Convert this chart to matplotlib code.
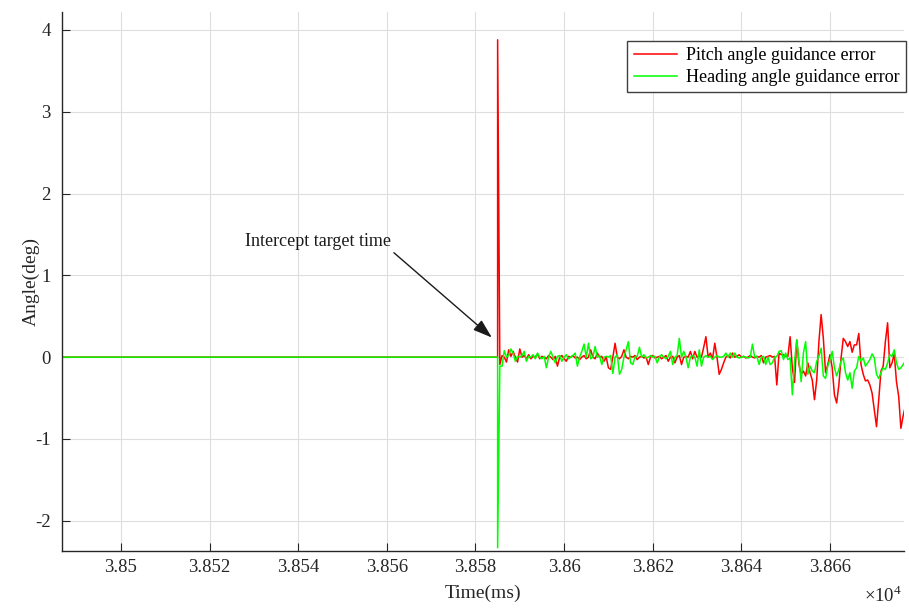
import numpy as np
import matplotlib
matplotlib.use("Agg")
import matplotlib.pyplot as plt

plt.rcParams['font.family'] = ['Liberation Serif', 'DejaVu Serif']
plt.rcParams['mathtext.fontset'] = 'custom'
plt.rcParams['mathtext.rm'] = 'Liberation Serif'
plt.rcParams['axes.unicode_minus'] = False

# ---------------- data ----------------
# quiet part before interception (both errors are zero)
t_quiet = [38487.0, 38585.0]
pitch_quiet = [0.0, 0.0]
heading_quiet = [0.0, 0.0]

# sampled part after interception: start time and sample step (ms)
t_start = 38585.0
dt = 0.5

pitch_err = [
    3.88, -0.09, 0.02, 0.0, -0.06, 0.09, 0.01, 0.07, 0.0, -0.06,
    0.10, 0.0, 0.02, -0.02, 0.03, -0.02, 0.01, 0.0, 0.04, -0.02,
    0.01, 0.0, -0.02, 0.02, 0.0, -0.03, 0.01, -0.11, 0.0, 0.02,
    -0.02, -0.05, 0.01, 0.0, 0.02, -0.01, 0.0, -0.03, 0.0, 0.02,
    -0.02, 0.0, 0.09, 0.0, -0.02, 0.05, 0.0, 0.01, -0.05, 0.0,
    -0.13, -0.15, 0.0, 0.17, 0.0, -0.02, 0.01, 0.09, 0.0, -0.02,
    0.01, 0.0, 0.02, -0.03, 0.0, 0.01, -0.01, 0.0, -0.09, 0.0,
    0.02, -0.01, 0.0, 0.01, -0.02, 0.0, 0.02, -0.05, 0.0, 0.01,
    -0.07, 0.0, 0.02, -0.09, 0.0, 0.01, 0.0, 0.07, -0.02, 0.07,
    0.0, 0.02, 0.0, 0.12, 0.25, 0.0, 0.05, -0.02, 0.17, 0.0,
    -0.21, -0.15, -0.07, 0.0, 0.02, -0.01, 0.05, 0.0, 0.01, 0.03,
    0.0, 0.01, -0.01, 0.0, 0.02, 0.0, -0.01, 0.01, 0.0, 0.02,
    -0.07, 0.0, 0.01, 0.02, 0.0, 0.01, -0.34, 0.05, 0.03, 0.03,
    0.01, 0.01, 0.25, -0.13, -0.31, 0.21, -0.09, -0.21, -0.17, -0.23,
    -0.07, -0.19, -0.28, -0.52, -0.28, 0.19, 0.52, 0.23, -0.19, -0.09,
    0.03, -0.13, -0.46, -0.56, -0.34, -0.01, 0.23, 0.19, 0.13, 0.19,
    0.06, 0.15, 0.15, 0.29, -0.09, -0.21, -0.29, -0.28, -0.34, -0.44,
    -0.64, -0.85, -0.52, -0.17, -0.11, 0.19, 0.42, -0.13, -0.07, 0.04,
    -0.30, -0.48, -0.87, -0.72, -0.60,
]

heading_err = [
    -2.33, -0.11, -0.11, 0.08, 0.0, 0.02, 0.10, 0.05, -0.05, 0.01,
    0.0, 0.02, 0.07, -0.05, 0.01, 0.0, 0.03, -0.02, 0.05, 0.0,
    -0.02, 0.01, -0.13, 0.0, 0.07, 0.0, -0.07, 0.01, 0.02, -0.05,
    0.0, 0.03, -0.02, 0.0, 0.02, 0.05, -0.11, 0.0, 0.07, 0.16,
    0.0, 0.17, -0.02, 0.0, 0.13, 0.0, 0.02, -0.09, 0.0, 0.01,
    0.0, 0.02, -0.20, 0.0, 0.03, -0.21, -0.15, 0.0, 0.09, 0.19,
    -0.07, -0.09, 0.0, 0.01, 0.12, 0.0, 0.03, -0.01, 0.0, 0.02,
    0.0, 0.01, -0.07, 0.0, 0.03, 0.0, -0.02, 0.01, 0.07, -0.09,
    0.0, 0.02, 0.23, 0.0, 0.07, 0.0, -0.13, 0.0, 0.02, 0.0,
    -0.11, 0.09, -0.11, 0.0, 0.02, 0.0, 0.01, -0.03, 0.0, 0.02,
    0.0, 0.0, 0.01, 0.05, 0.0, 0.05, 0.0, 0.05, 0.0, -0.01,
    0.0, 0.01, 0.0, -0.01, 0.0, 0.16, 0.0, 0.01, -0.09, 0.0,
    0.01, -0.09, 0.0, -0.09, -0.07, 0.0, 0.01, 0.07, 0.08, -0.03,
    0.05, -0.03, -0.01, -0.46, -0.05, 0.21, -0.05, -0.30, 0.05, 0.19,
    -0.21, -0.11, -0.17, -0.19, -0.05, 0.01, 0.11, -0.23, -0.26, -0.11,
    -0.03, 0.07, -0.13, -0.23, -0.15, -0.05, -0.01, -0.19, -0.28, -0.19,
    -0.38, -0.17, -0.13, 0.01, -0.05, -0.01, -0.11, -0.07, -0.03, 0.04,
    -0.01, -0.21, -0.26, -0.19, -0.13, -0.15, -0.07, 0.03, 0.01, 0.09,
    -0.07, -0.15, -0.13, -0.09, -0.05,
]

x_ticks = [38500, 38520, 38540, 38560, 38580, 38600, 38620, 38640, 38660]
x_tick_labels = ['3.85', '3.852', '3.854', '3.856', '3.858', '3.86', '3.862', '3.864', '3.866']
y_ticks = [-2, -1, 0, 1, 2, 3, 4]

series_names = ['Pitch angle guidance error', 'Heading angle guidance error']
intercept_time = 38584.7
annot_text = 'Intercept target time'

# ---------------- build series ----------------
n = len(pitch_err)
t_after = t_start + dt * np.arange(n)
t_all = np.concatenate([t_quiet, t_after])
pitch_all = np.concatenate([pitch_quiet, pitch_err])
heading_all = np.concatenate([heading_quiet, heading_err])

# ---------------- figure ----------------
fig = plt.figure(figsize=(9.09, 6.08), dpi=100)
ax = fig.add_axes([62/909, 57/608, (904-62)/909, (596-57)/608])

dark = '#262626'
ax.plot(t_all, pitch_all, color='#ff0000', lw=1.1, label=series_names[0])
ax.plot(t_all, heading_all, color='#00ff00', lw=1.1, label=series_names[1])

ax.set_xlim(38486.7, 38676.7)
ax.set_ylim(-2.37, 4.22)
ax.set_xticks(x_ticks)
ax.set_xticklabels(x_tick_labels)
ax.set_yticks(y_ticks)
ax.set_yticklabels([str(v) for v in y_ticks])

ax.grid(True, color='#dedede', lw=0.8)
ax.set_axisbelow(True)
for s in ['top', 'right']:
    ax.spines[s].set_visible(False)
for s in ['left', 'bottom']:
    ax.spines[s].set_color(dark)
    ax.spines[s].set_linewidth(1.0)
ax.tick_params(direction='in', length=6, width=0.8, colors=dark, labelsize=13.5)
ax.tick_params(axis='x', pad=6)
ax.tick_params(axis='y', pad=8)

ax.set_xlabel('Time(ms)', fontsize=14, color=dark, labelpad=6)
ax.set_ylabel('Angle(deg)', fontsize=14, color=dark, labelpad=-3)

fig.text(864/909, 1 - 606/608, r'$\times\mathrm{10}^{4}$', fontsize=13.5, color=dark,
         ha='left', va='bottom')

leg = ax.legend(loc='upper right', bbox_to_anchor=(906/909, 1 - 41/608),
                bbox_transform=fig.transFigure, borderaxespad=0, fancybox=False,
                edgecolor='#404040', fontsize=13, handlelength=2.4, handletextpad=0.5,
                borderpad=0.35, labelspacing=0.25, framealpha=1)
leg.get_frame().set_linewidth(1.0)

ax.annotate(annot_text, xy=(intercept_time - 1.0, 0.24), xytext=(38544.5, 1.41),
            fontsize=13, color='#1a1a1a', ha='center', va='center',
            arrowprops=dict(arrowstyle='-|>,head_length=0.9,head_width=0.3',
                            color='#1a1a1a', lw=1.0, relpos=(1.0, 0.0),
                            shrinkA=0, shrinkB=0))

fig.savefig('out.png', dpi=100)
